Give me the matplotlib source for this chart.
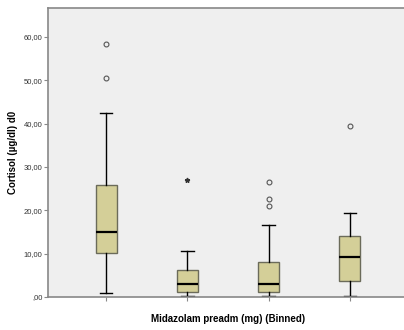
import matplotlib
matplotlib.use("Agg")
import matplotlib.pyplot as plt

# five-number summaries
groups = ["1", "2", "3", "4"]
whislo = [0.85, 0.15, 0.2, 0.3]
q1 = [10.2, 1.15, 1.15, 3.8]
med = [15.1, 2.9, 3.1, 9.2]
q3 = [25.8, 6.25, 8.0, 14.0]
whishi = [42.5, 10.6, 16.6, 19.4]
outliers = [[58.4, 50.5], [], [26.6, 22.7, 21.1], [39.5]]
extremes = [[], [27.0], [], []]

yticks = [0, 10, 20, 30, 40, 50, 60]
ytick_labels = [",00", "10,00", "20,00", "30,00", "40,00", "50,00", "60,00"]

plt.rcParams['font.family'] = ['Liberation Sans', 'DejaVu Sans']

fig = plt.figure(figsize=(4.04, 3.30), dpi=100)
ax = fig.add_axes([48/404, 33/330, 360/404, 289/330])
ax.set_facecolor("#efefef")

stats = []
for i in range(len(groups)):
    stats.append({"whislo": whislo[i], "q1": q1[i], "med": med[i],
                  "q3": q3[i], "whishi": whishi[i], "fliers": outliers[i],
                  "label": ""})

pos = list(range(1, len(groups) + 1))
ax.bxp(stats, positions=pos, widths=0.255, patch_artist=True,
       boxprops=dict(facecolor="#d4cf98", edgecolor="#6b6b5a", linewidth=1),
       medianprops=dict(color="black", linewidth=1.6),
       whiskerprops=dict(color="black", linewidth=1),
       capprops=dict(color="black", linewidth=1),
       capwidths=0.15,
       flierprops=dict(marker="o", markersize=3.5, markerfacecolor="none",
                       markeredgecolor="#555555", markeredgewidth=0.8))

for p, ex in zip(pos, extremes):
    if ex:
        ax.plot([p] * len(ex), ex, linestyle="none", marker="*",
                markersize=3.5, color="#333333")

ax.set_xlim(0.28, 4.72)
ax.set_ylim(0, 66.7)
ax.set_yticks(yticks)
ax.set_yticklabels(ytick_labels, fontsize=5.5, color="#333333")
ax.set_xticks(pos)
ax.set_xticklabels([""] * len(pos))
ax.tick_params(axis="y", length=3, width=0.8, color="#888888", pad=1)
ax.tick_params(axis="x", length=3, width=0.8, color="#888888")

for s in ["top", "left", "bottom"]:
    ax.spines[s].set_color("#888888")
    ax.spines[s].set_linewidth(1.2)
ax.spines["right"].set_visible(False)

ax.set_ylabel("Cortisol (µg/dl) d0", fontsize=7, fontweight="bold", labelpad=4)
ax.set_xlabel("Midazolam preadm (mg) (Binned)", fontsize=7, fontweight="bold", labelpad=6)

fig.savefig("out.png", dpi=100)
